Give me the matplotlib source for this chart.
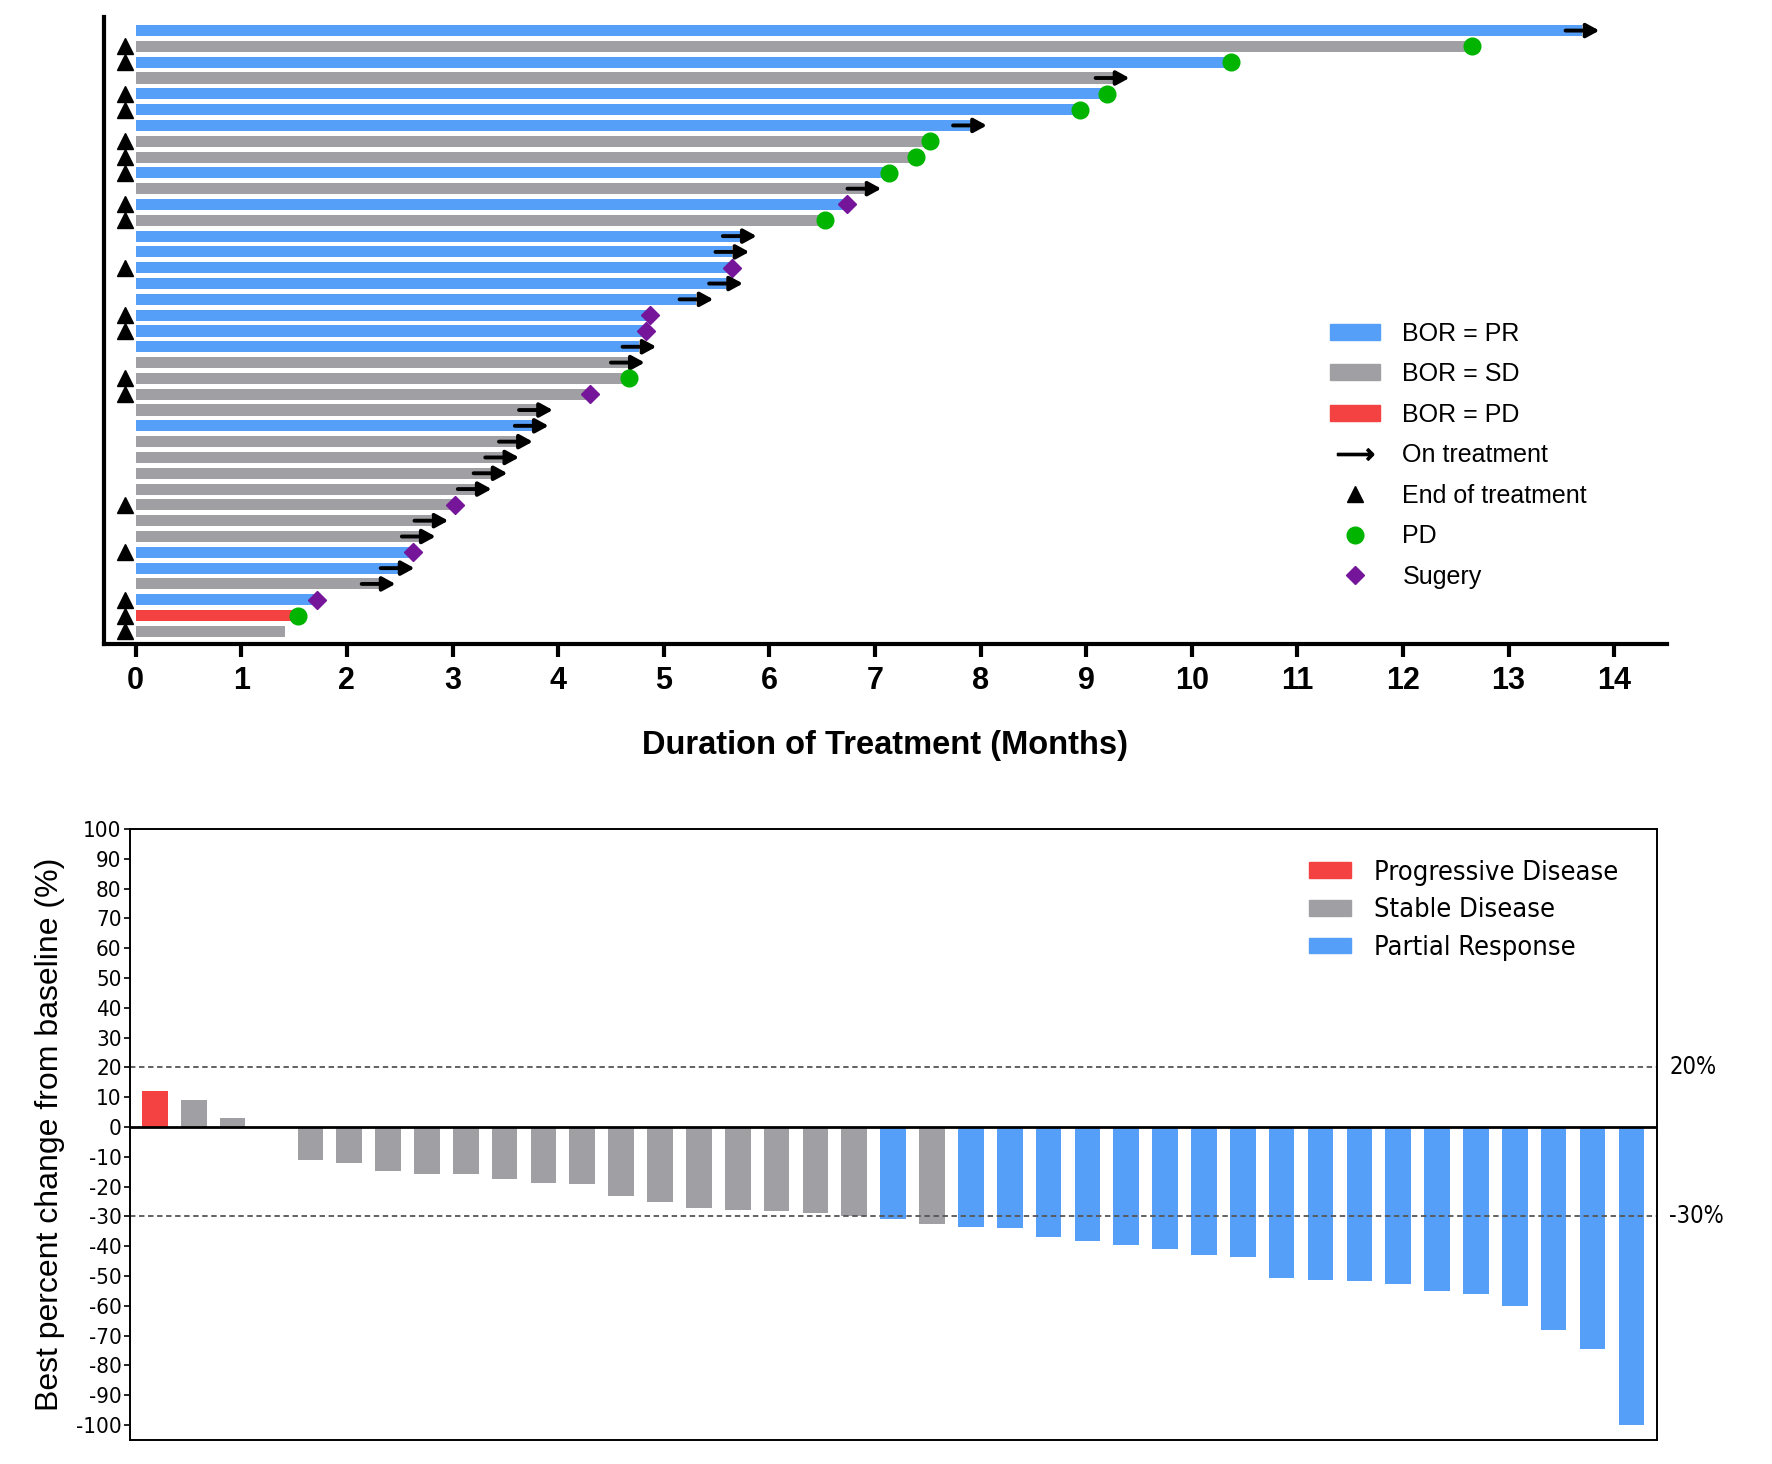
import numpy as np
import matplotlib.pyplot as plt
import matplotlib.patches as mpatches
from matplotlib.lines import Line2D

plt.rcParams['font.family'] = ['Liberation Sans', 'DejaVu Sans']
plt.rcParams['axes.unicode_minus'] = False
NARROW = dict(family=['Liberation Sans Narrow', 'DejaVu Sans'], stretch='condensed')

BLUE = '#559ff8'
GRAY = '#a0a0a4'
RED = '#f44242'
GREEN = '#00b400'
PURPLE = '#74159a'
colors = {'PR': BLUE, 'SD': GRAY, 'PD': RED}

# swimmer plot, listed from the top row down
bor = ['PR', 'SD', 'PR', 'SD', 'PR', 'PR', 'PR', 'SD', 'SD', 'PR',
       'SD', 'PR', 'SD', 'PR', 'PR', 'PR', 'PR', 'PR', 'PR', 'PR',
       'PR', 'SD', 'SD', 'SD', 'SD', 'PR', 'SD', 'SD', 'SD', 'SD',
       'SD', 'SD', 'SD', 'PR', 'PR', 'SD', 'PR', 'PD', 'SD']
duration = [13.7, 12.65, 10.37, 9.25, 9.2, 8.94, 7.9, 7.52, 7.39, 7.13,
            6.9, 6.74, 6.53, 5.72, 5.65, 5.65, 5.59, 5.31, 4.87, 4.83,
            4.77, 4.66, 4.67, 4.3, 3.79, 3.75, 3.6, 3.47, 3.36, 3.21,
            3.02, 2.8, 2.68, 2.63, 2.48, 2.3, 1.72, 1.54, 1.41]
event = ['on', 'pd', 'pd', 'on', 'pd', 'pd', 'on', 'pd', 'pd', 'pd',
         'on', 'surg', 'pd', 'on', 'on', 'surg', 'on', 'on', 'surg', 'surg',
         'on', 'on', 'pd', 'surg', 'on', 'on', 'on', 'on', 'on', 'on',
         'surg', 'on', 'on', 'surg', 'on', 'on', 'surg', 'pd', '']
ended = [0, 1, 1, 0, 1, 1, 0, 1, 1, 1,
         0, 1, 1, 0, 0, 1, 0, 0, 1, 1,
         0, 0, 1, 1, 0, 0, 0, 0, 0, 0,
         1, 0, 0, 1, 0, 0, 1, 1, 1]

# waterfall plot
change = [12.0, 9.1, 3.2, 0, -11.0, -12.0, -14.6, -15.6, -15.7, -17.4,
          -18.9, -19.2, -23.2, -25.0, -27.2, -27.9, -28.3, -28.8, -30.0, -30.8,
          -32.4, -33.4, -33.7, -36.8, -38.3, -39.6, -41.0, -43.0, -43.7, -50.6,
          -51.2, -51.7, -52.7, -54.9, -56.1, -60.0, -68.0, -74.6, -100.0]
response = ['PD'] + ['SD'] * 18 + ['PR', 'SD'] + ['PR'] * 18

fig = plt.figure(figsize=(17.72, 14.64), dpi=100)

# ---- top: swimmer plot
ax1 = fig.add_axes([0.0587, 0.5601, 0.882, 0.4283])
n = len(duration)
ypos = np.arange(n)[::-1]
ax1.barh(ypos, duration, height=0.7, color=[colors[b] for b in bor])
for y, d, e, t in zip(ypos, duration, event, ended):
    if e == 'on':
        ax1.annotate('', xy=(d + 0.16, y), xytext=(d - 0.16, y),
                     arrowprops=dict(arrowstyle='-|>,head_length=0.55,head_width=0.3',
                                     color='k', lw=2.8, shrinkA=0, shrinkB=0,
                                     mutation_scale=14))
    elif e == 'pd':
        ax1.plot(d, y, 'o', color=GREEN, ms=12, zorder=3)
    elif e == 'surg':
        ax1.plot(d, y, 'D', color=PURPLE, ms=9, zorder=3)
    if t:
        ax1.plot(-0.1, y, '^', color='k', ms=12, clip_on=False, zorder=3)

ax1.set_xlim(-0.3, 14.5)
ax1.set_ylim(-0.8, n - 1 + 0.86)
ax1.set_xticks(range(15))
ax1.set_yticks([])
ax1.spines['top'].set_visible(False)
ax1.spines['right'].set_visible(False)
ax1.spines['left'].set_linewidth(3)
ax1.spines['bottom'].set_linewidth(3)
ax1.tick_params(axis='x', width=3, length=9, labelsize=22, pad=7)
for lab in ax1.get_xticklabels():
    lab.set_fontweight('bold')
ax1.set_xlabel('Duration of Treatment (Months)', fontsize=23.5, fontweight='bold', labelpad=24)

h1 = [mpatches.Patch(color=BLUE, label='BOR = PR'),
      mpatches.Patch(color=GRAY, label='BOR = SD'),
      mpatches.Patch(color=RED, label='BOR = PD'),
      Line2D([], [], ls='', marker=r'$\longrightarrow$', ms=26, color='k', label='On treatment'),
      Line2D([], [], ls='', marker='^', ms=11, color='k', label='End of treatment'),
      Line2D([], [], ls='', marker='o', ms=12, color=GREEN, label='PD'),
      Line2D([], [], ls='', marker='D', ms=9, color=PURPLE, label='Sugery')]
ax1.legend(handles=h1, loc='upper left', bbox_to_anchor=(0.77, 0.55), frameon=False,
           fontsize=18, handlelength=2.0, handleheight=0.6, labelspacing=0.66, handletextpad=0.9)

# ---- bottom: waterfall plot
ax2 = fig.add_axes([0.0734, 0.0164, 0.8617, 0.4173])
x = np.arange(len(change))
ax2.bar(x, change, width=0.66, color=[colors[r] for r in response])
ax2.axhline(0, color='k', lw=2)
ax2.axhline(20, color='#555555', lw=1.3, ls=(0, (3, 2)))
ax2.axhline(-30, color='#555555', lw=1.3, ls=(0, (3, 2)))
ax2.text(1.008, 20, '20%', transform=ax2.get_yaxis_transform(), va='center', ha='left',
         fontsize=17, **NARROW)
ax2.text(1.008, -30, '-30%', transform=ax2.get_yaxis_transform(), va='center', ha='left',
         fontsize=17, **NARROW)
ax2.set_xlim(-0.64, len(change) - 1 + 0.66)
ax2.set_ylim(-105, 100)
ax2.set_xticks([])
ax2.set_yticks(range(-100, 101, 10))
ax2.tick_params(axis='y', labelsize=16, length=4, width=1.2, pad=2)
for lab in ax2.get_yticklabels():
    lab.set_family(NARROW['family'])
    lab.set_stretch('condensed')
for s in ax2.spines.values():
    s.set_linewidth(1.4)
ax2.set_ylabel('Best percent change from baseline (%)', fontsize=23, labelpad=8)

h2 = [mpatches.Patch(color=RED, label='Progressive Disease'),
      mpatches.Patch(color=GRAY, label='Stable Disease'),
      mpatches.Patch(color=BLUE, label='Partial Response')]
ax2.legend(handles=h2, loc='upper left', bbox_to_anchor=(0.756, 0.99), frameon=False,
           prop={'family': NARROW['family'], 'stretch': 'condensed', 'size': 19.5},
           handlelength=1.55, handleheight=0.5, labelspacing=0.44, handletextpad=0.85)

fig.savefig('out.png', dpi=100)
